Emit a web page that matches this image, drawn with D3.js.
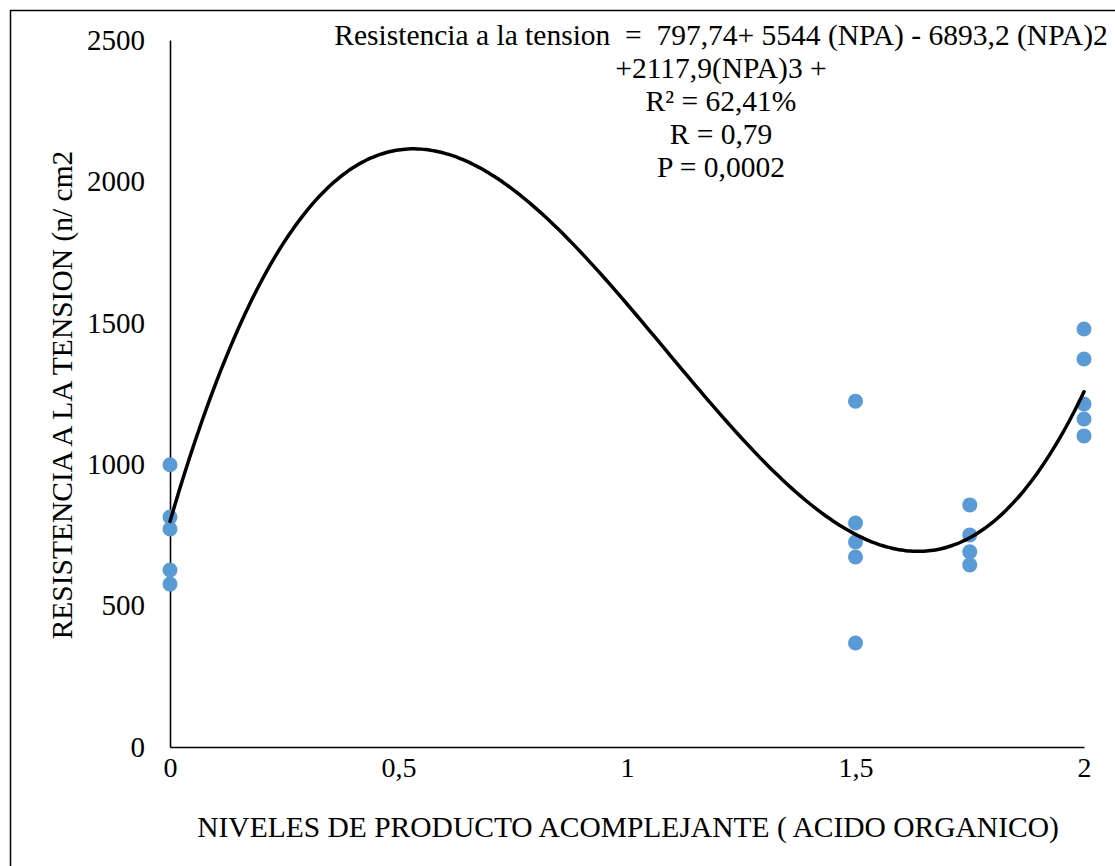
<!DOCTYPE html>
<html>
<head>
<meta charset="utf-8">
<script src="https://cdn.jsdelivr.net/npm/d3@7"></script>
<style>
  html, body { margin: 0; padding: 0; background: #fff; }
  svg { display: block; }
  svg text { fill: #000; }
</style>
</head>
<body>
<svg id="chart" width="1115" height="866"></svg>
<script>
const serifFont = "'Liberation Serif', 'DejaVu Serif', 'Noto Serif', serif";

// Observed levels of the complexing product (NPA) and tensile strength readings
const levels0   = [0, 0, 0, 0, 0];
const values0   = [998, 813, 771, 626, 576];
const levels15  = [1.5, 1.5, 1.5, 1.5, 1.5];
const values15  = [1223, 792, 725, 672, 368];
const levels175 = [1.75, 1.75, 1.75, 1.75];
const values175 = [856, 750, 690, 644];
const levels2   = [2, 2, 2, 2, 2];
const values2   = [1478, 1372, 1213, 1160, 1100];

// Cubic fit coefficients: b0 + b1*x + b2*x^2 + b3*x^3
const coefficients = [797.74, 5544, -6893.2, 2117.9];

const xTicks = [0, 0.5, 1, 1.5, 2];
const xTickLabels = ["0", "0,5", "1", "1,5", "2"];
const yTicks = [0, 500, 1000, 1500, 2000, 2500];

const equationLines = [
  "Resistencia a la tension  =  797,74+ 5544 (NPA) - 6893,2 (NPA)2",
  "+2117,9(NPA)3 +",
  "R\u00B2 = 62,41%",
  "R = 0,79",
  "P = 0,0002"
];

const svg = d3.select("#chart");

// outer frame
svg.append("rect")
  .attr("x", 10.5).attr("y", 10.5)
  .attr("width", 1200).attr("height", 1000)
  .attr("fill", "none").attr("stroke", "#000").attr("stroke-width", 1.5);

const x = d3.scaleLinear().domain([0, 2]).range([170, 1084]);
const y = d3.scaleLinear().domain([0, 2500]).range([747, 40]);

// axes (lines only, no tick marks)
const xAxis = d3.axisBottom(x).tickValues(xTicks)
  .tickFormat((d, i) => xTickLabels[i]).tickSize(0).tickPadding(10);
const gx = svg.append("g").attr("transform", `translate(0,${y(0)})`).call(xAxis);
gx.attr("font-family", serifFont).attr("font-size", 28);
gx.select(".domain").attr("stroke", "#000").attr("stroke-width", 1.6);

const yAxis = d3.axisLeft(y).tickValues(yTicks).tickFormat(d3.format("d"))
  .tickSize(0).tickPadding(25);
const gy = svg.append("g").attr("transform", `translate(${x(0)},0)`).call(yAxis);
gy.attr("font-family", serifFont).attr("font-size", 29);
gy.select(".domain").attr("stroke", "#000").attr("stroke-width", 1.6);

// scatter points
const points = [];
[[levels0, values0], [levels15, values15], [levels175, values175], [levels2, values2]]
  .forEach(([xs, vs]) => xs.forEach((lv, i) => points.push({ x: lv, v: vs[i] })));

svg.append("g").selectAll("circle").data(points).join("circle")
  .attr("cx", d => x(d.x)).attr("cy", d => y(d.v))
  .attr("r", 7.5).attr("fill", "#5B9BD5");

// fitted polynomial curve
const poly = t => coefficients.reduce((s, c, k) => s + c * Math.pow(t, k), 0);
const curveX = d3.range(0, 2.0001, 0.01);
svg.append("path")
  .datum(curveX)
  .attr("fill", "none").attr("stroke", "#000").attr("stroke-width", 3.5)
  .attr("stroke-linecap", "round")
  .attr("d", d3.line().x(t => x(t)).y(t => y(poly(t))).curve(d3.curveMonotoneX));

// equation block
const eq = svg.append("text").attr("font-family", serifFont)
  .attr("font-size", 29.5).attr("text-anchor", "middle")
  .style("white-space", "pre");
equationLines.forEach((line, i) => {
  eq.append("tspan").attr("x", 721).attr("y", 45 + i * 33).text(line);
});

// axis titles
svg.append("text").attr("font-family", serifFont)
  .attr("x", 628).attr("y", 837)
  .attr("text-anchor", "middle").attr("font-size", 29.5)
  .text("NIVELES DE PRODUCTO ACOMPLEJANTE ( ACIDO ORGANICO)");

svg.append("text").attr("font-family", serifFont)
  .attr("transform", "translate(72,395) rotate(-90)")
  .attr("text-anchor", "middle").attr("font-size", 29.5)
  .text("RESISTENCIA A LA TENSION (n/ cm2");
</script>
</body>
</html>
